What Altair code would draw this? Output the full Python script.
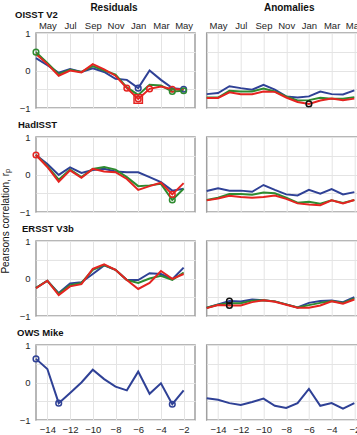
import altair as alt
import pandas as pd

# ---------------- data ----------------
lags = [-15, -14, -13, -12, -11, -10, -9, -8, -7, -6, -5, -4, -3, -2]
x_ticks = [-14, -12, -10, -8, -6, -4, -2]
month_labels = ["May", "Jul", "Sep", "Nov", "Jan", "Mar", "May"]
y_ticks = [-1, -0.5, 0, 0.5, 1]

series_names = ["A", "B", "C"]
series_colors = ["#2f4196", "#2e8b30", "#e52421"]

row_titles = ["OISST V2", "HadISST", "ERSST V3b", "OWS Mike"]
col_titles = ["Residuals", "Anomalies"]
y_title = "Pearsons correlation, r"
y_title_sub = "p"

# OISST V2
oisst_res_a = [0.33, 0.14, -0.06, 0.04, -0.04, 0.06, -0.04, -0.22, -0.25, -0.47, 0.00, -0.25, -0.47, -0.50]
oisst_res_b = [0.49, 0.20, -0.10, 0.02, -0.04, 0.12, 0.00, -0.11, -0.45, -0.65, -0.38, -0.40, -0.56, -0.54]
oisst_res_c = [0.44, 0.17, -0.14, 0.00, -0.05, 0.17, 0.03, -0.14, -0.47, -0.76, -0.49, -0.43, -0.50, -0.50]
oisst_ano_a = [-0.63, -0.60, -0.42, -0.47, -0.51, -0.38, -0.51, -0.69, -0.72, -0.69, -0.56, -0.63, -0.64, -0.53]
oisst_ano_b = [-0.72, -0.72, -0.54, -0.56, -0.56, -0.48, -0.56, -0.69, -0.80, -0.79, -0.73, -0.75, -0.75, -0.71]
oisst_ano_c = [-0.73, -0.73, -0.58, -0.63, -0.63, -0.56, -0.57, -0.72, -0.84, -0.89, -0.80, -0.75, -0.79, -0.75]

# HadISST
hadisst_res_a = [0.52, 0.28, -0.01, 0.19, 0.04, 0.12, 0.15, 0.08, 0.06, 0.06, -0.07, -0.20, -0.43, -0.38]
hadisst_res_b = [0.52, 0.22, -0.14, 0.13, -0.07, 0.15, 0.20, 0.13, -0.07, -0.31, -0.29, -0.25, -0.68, -0.38]
hadisst_res_c = [0.52, 0.20, -0.19, 0.11, -0.09, 0.15, 0.08, 0.06, -0.12, -0.41, -0.31, -0.22, -0.53, -0.23]
hadisst_ano_a = [-0.44, -0.37, -0.43, -0.43, -0.46, -0.28, -0.41, -0.53, -0.56, -0.41, -0.51, -0.39, -0.53, -0.47]
hadisst_ano_b = [-0.68, -0.62, -0.52, -0.52, -0.54, -0.48, -0.50, -0.62, -0.75, -0.73, -0.78, -0.69, -0.76, -0.68]
hadisst_ano_c = [-0.69, -0.64, -0.57, -0.60, -0.62, -0.60, -0.56, -0.65, -0.77, -0.80, -0.82, -0.69, -0.77, -0.68]

# ERSST V3b
ersst_res_a = [-0.25, -0.06, -0.39, -0.13, -0.10, 0.12, 0.35, 0.23, -0.04, -0.04, 0.14, 0.12, -0.02, 0.29]
ersst_res_b = [-0.25, -0.06, -0.41, -0.18, -0.12, 0.23, 0.36, 0.23, -0.04, -0.12, 0.00, 0.07, -0.04, 0.16]
ersst_res_c = [-0.26, -0.06, -0.44, -0.21, -0.15, 0.26, 0.38, 0.23, -0.04, -0.28, -0.12, 0.20, -0.01, 0.12]
ersst_ano_a = [-0.78, -0.69, -0.60, -0.61, -0.56, -0.58, -0.61, -0.69, -0.77, -0.65, -0.60, -0.59, -0.63, -0.50]
ersst_ano_b = [-0.78, -0.70, -0.66, -0.66, -0.59, -0.58, -0.61, -0.69, -0.77, -0.71, -0.65, -0.60, -0.65, -0.53]
ersst_ano_c = [-0.79, -0.71, -0.72, -0.72, -0.63, -0.58, -0.62, -0.70, -0.78, -0.78, -0.72, -0.61, -0.67, -0.56]

# OWS Mike
ows_res_a = [0.63, 0.36, -0.55, -0.28, 0.00, 0.34, 0.09, -0.11, -0.21, 0.29, -0.30, -0.02, -0.58, -0.21]
ows_ano_a = [-0.42, -0.46, -0.55, -0.60, -0.52, -0.43, -0.62, -0.68, -0.55, -0.17, -0.62, -0.55, -0.70, -0.55]

# highlighted points: panel (row, col), series, lag, colour, shape, size
marker_row = [0, 0, 0, 0, 0, 0, 0, 0, 0, 0, 0, 1, 1, 1, 2, 2, 3, 3, 3]
marker_col = [0, 0, 0, 0, 0, 0, 0, 0, 0, 0, 1, 0, 0, 0, 1, 1, 0, 0, 0]
marker_series = ["B", "C", "C", "C", "C", "C", "A", "A", "B", "B", "C", "C", "B", "C", "A", "C", "A", "A", "A"]
marker_lag = [-15, -7, -6, -6, -5, -3, -6, -2, -3, -2, -6, -15, -3, -3, -13, -13, -15, -13, -3]
marker_color = ["#2e8b30", "#e52421", "#e52421", "#e52421", "#e52421", "#e52421", "#2f4196", "#2f4196",
                "#2e8b30", "#2e8b30", "#111111", "#e52421", "#2e8b30", "#e52421",
                "#111111", "#111111", "#2f4196", "#2f4196", "#2f4196"]
marker_shape = ["circle", "circle", "circle", "square", "circle", "circle", "circle", "circle",
                "circle", "circle", "circle", "circle", "circle", "circle",
                "circle", "circle", "circle", "circle", "circle"]
marker_size = [32, 32, 32, 70, 32, 32, 32, 32, 32, 32, 32, 32, 32, 32, 32, 32, 32, 32, 32]

panel_series = {
    (0, 0): [oisst_res_a, oisst_res_b, oisst_res_c],
    (0, 1): [oisst_ano_a, oisst_ano_b, oisst_ano_c],
    (1, 0): [hadisst_res_a, hadisst_res_b, hadisst_res_c],
    (1, 1): [hadisst_ano_a, hadisst_ano_b, hadisst_ano_c],
    (2, 0): [ersst_res_a, ersst_res_b, ersst_res_c],
    (2, 1): [ersst_ano_a, ersst_ano_b, ersst_ano_c],
    (3, 0): [ows_res_a, None, None],
    (3, 1): [ows_ano_a, None, None],
}

# ---------------- layout ----------------
PW, PH = 159, 75
ROW_GAP, COL_GAP = 29, 11.7
FONT = "Liberation Sans"
LEFT, TOP = 36, 33
WIN_W, WIN_H = 357, 435

row_title_pos = [(-21, -18), (-18, -12), (-14, -12), (-19, -11.7)]
col_title_pos = [(78, -25.5), (82.5, -25.5)]

month_expr = "''"
for t, m in reversed(list(zip(x_ticks, month_labels))):
    month_expr = f"datum.value == {t} ? '{m}' : ({month_expr})"
y_expr = "datum.value == 1 ? '1' : datum.value == 0 ? '0' : datum.value == -1 ? '\u22121' : ''"
x_expr = "'\u2212' + abs(datum.value)"


def text_layer(txt, x, y, size, bold=False, align="left", angle=0, baseline="middle"):
    kw = dict(font=FONT, fontSize=size, align=align, baseline=baseline, color="#111111")
    if bold:
        kw["fontWeight"] = "bold"
    if angle:
        kw["angle"] = angle
    return alt.Chart(pd.DataFrame({"t": [txt]})).mark_text(**kw).encode(
        text="t:N", x=alt.value(x), y=alt.value(y))


def make_panel(row, col):
    lists = panel_series[(row, col)]
    recs = []
    for name, vals in zip(series_names, lists):
        if vals is None:
            continue
        for lag, v in zip(lags, vals):
            recs.append({"lag": lag, "r": v, "series": name})
    df = pd.DataFrame(recs)

    xscale = alt.Scale(domain=[-15, -1], nice=False, zero=False)
    yscale = alt.Scale(domain=[-1, 1], nice=False, zero=False)
    if row == 0:
        xaxis = alt.Axis(orient="top", values=x_ticks, labelExpr=month_expr, grid=True, ticks=False,
                         domain=False, title=None, labelPadding=3)
    elif row == 3:
        xaxis = alt.Axis(orient="bottom", values=x_ticks, labelExpr=x_expr, grid=True, ticks=False,
                         domain=False, title=None, labelPadding=4)
    else:
        xaxis = alt.Axis(values=x_ticks, labels=False, grid=True, ticks=False, domain=False, title=None)
    yaxis = alt.Axis(values=y_ticks, labels=(col == 0), labelExpr=y_expr, grid=True, ticks=False,
                     domain=False, title=None, labelPadding=6)
    X = alt.X("lag:Q", scale=xscale, axis=xaxis)
    Y = alt.Y("r:Q", scale=yscale, axis=yaxis)
    color = alt.Color("series:N", scale=alt.Scale(domain=series_names, range=series_colors), legend=None)

    layers = [alt.Chart(df).mark_line(strokeWidth=2).encode(x=X, y=Y, color=color)]

    mrecs = []
    for i in range(len(marker_row)):
        if marker_row[i] == row and marker_col[i] == col and marker_size[i] > 0:
            vals = lists[series_names.index(marker_series[i])]
            mrecs.append({"lag": marker_lag[i], "r": vals[lags.index(marker_lag[i])],
                          "mcolor": marker_color[i], "mshape": marker_shape[i], "msize": marker_size[i]})
    if mrecs:
        mdf = pd.DataFrame(mrecs)
        layers.append(alt.Chart(mdf).mark_point(filled=False, strokeWidth=1.5, opacity=1).encode(
            x=X, y=Y,
            stroke=alt.Stroke("mcolor:N", scale=None),
            shape=alt.Shape("mshape:N", scale=None),
            size=alt.Size("msize:Q", scale=None)))

    if col == 0:
        tx, ty = row_title_pos[row]
        layers.append(text_layer(row_titles[row], tx, ty, 9.5, bold=True))
    if row == 0:
        cx, cy = col_title_pos[col]
        layers.append(text_layer(col_titles[col], cx, cy, 10, bold=True, align="center"))
    if row == 1 and col == 0:
        layers.append(text_layer(y_title, -30.5, 36, 10, align="right", angle=270))
        layers.append(text_layer(y_title_sub, -28, 36, 7.5, align="left", angle=270))
    return alt.layer(*layers).properties(width=PW, height=PH)


panels = [make_panel(r, c) for r in range(4) for c in range(2)]

chart = alt.ConcatChart(
    concat=panels, columns=2, spacing={"row": ROW_GAP, "column": COL_GAP}, bounds="flush",
    autosize=alt.AutoSizeParams(type="none"),
    padding={"left": LEFT, "top": TOP, "right": WIN_W - LEFT, "bottom": WIN_H - TOP},
    background="white"
).configure_view(
    stroke="#a0a0a0", strokeWidth=1.5
).configure_axis(
    gridColor="#e4e4e4", gridWidth=1, labelFont=FONT, labelFontSize=9.5, labelColor="#262626"
)

chart.save("out.html", embed_options={"renderer": "svg", "actions": False})
